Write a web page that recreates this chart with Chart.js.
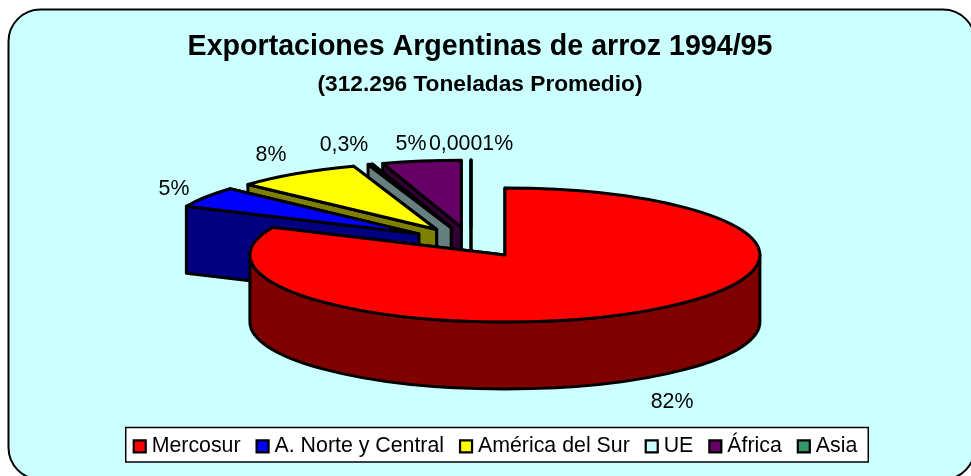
<!DOCTYPE html>
<html><head><meta charset="utf-8">
<style>html,body{margin:0;padding:0;background:#fff}canvas{display:block}</style>
<script src="https://cdn.jsdelivr.net/npm/chart.js@4/dist/chart.umd.min.js"></script>
</head><body><div style="width:971px;height:476px"><canvas id="c" width="971" height="476"></canvas></div>
<script>
const categories = ['Mercosur','A. Norte y Central','América del Sur','UE','África','Asia'];
const shares = [82,5,8,0.3,5,0.0001];
const shareLabels = ['82%','5%','8%','0,3%','5%','0,0001%'];
const topColors = ['#FF0000','#0000FF','#FFFF00','#CCFFFF','#660066','#339966'];
const wallColors = ['#800000','#000080','#808000','#668080','#330033','#1A4D33'];
const drawOrder = [5,4,3,2,1,0];

const FONT = '"Liberation Sans", Arial, sans-serif';
const BG = '#CCFFFF';
const RX = 255, SQUASH = 67/255, DEPTH = 67, EXPLODE_X = 62.5, EXPLODE_Y = 15.2;
const PIE_CX = 471, PIE_CY = 242.2;
const TITLE_SHIFT = -5.5, LEGEND_SHIFT = 10;
const LABEL_CENTERS = [[672,402],[174,189],[271,155],[344,145],[411,144],[471,144]];

const pie3d = {
  id:'pie3d',
  afterLayout(chart){
    for(const b of chart.boxes){
      if(b.position==='top' && b.options && b.options.text){ b.left+=TITLE_SHIFT; b.right+=TITLE_SHIFT; }
    }
    chart.legend.left+=LEGEND_SHIFT; chart.legend.right+=LEGEND_SHIFT;
  },
  beforeDraw(chart){
    const c=chart.ctx;
    c.save();
    c.fillStyle='#fff'; c.fillRect(0,0,971,476);
    c.beginPath(); c.roundRect(8.5,9.5,966.5,470,32);
    c.fillStyle=BG; c.fill();
    c.lineWidth=2; c.strokeStyle='#000'; c.stroke();
    const hits=chart.legend.legendHitBoxes, f=hits[0], l=hits[hits.length-1];
    c.fillStyle='#fff'; c.lineWidth=1.5;
    c.beginPath(); c.rect(f.left-8,427.5,l.left+l.width-f.left+19,34.5); c.fill(); c.stroke();
    c.restore();
  },
  beforeDatasetDraw(chart,args){
    const c=chart.ctx, meta=args.meta;
    const dx=PIE_CX-meta.data[0].x, dy=PIE_CY-meta.data[0].y;
    c.save(); c.lineJoin='round'; c.strokeStyle='#000'; c.lineWidth=3;
    for(const i of drawOrder){
      const el=meta.data[i];
      const ry=el.outerRadius*SQUASH, r=el.outerRadius;
      const a0=el.startAngle, a1=el.endAngle, mid=(a0+a1)/2;
      const cx=el.x+dx+Math.cos(mid)*EXPLODE_X, cy=el.y+dy+Math.sin(mid)*EXPLODE_Y;
      const px=a=>cx+Math.cos(a)*r, py=a=>cy+Math.sin(a)*ry;
      const wall=a=>{c.beginPath();c.moveTo(cx,cy);c.lineTo(px(a),py(a));c.lineTo(px(a),py(a)+DEPTH);c.lineTo(cx,cy+DEPTH);c.closePath();c.fillStyle=wallColors[i];c.fill();c.stroke();};
      wall(a1); wall(a0);
      const f0=Math.max(a0,0), f1=Math.min(a1,Math.PI);
      if(f1>f0){
        c.beginPath(); c.ellipse(cx,cy,r,ry,0,f0,f1);
        c.ellipse(cx,cy+DEPTH,r,ry,0,f1,f0,true); c.closePath();
        c.fillStyle=wallColors[i]; c.fill(); c.stroke();
      }
      // top face drawn by the library's arc element, squashed into the tilt
      c.save();
      c.translate(cx,cy); c.scale(1,SQUASH); c.translate(-el.x,-el.y);
      el.draw(c);
      c.restore();
      c.beginPath(); c.moveTo(cx,cy); c.ellipse(cx,cy,r,ry,0,a0,a1); c.closePath(); c.stroke();
    }
    c.restore();
    return false;
  },
  afterDraw(chart){
    const c=chart.ctx;
    c.save();
    chart.legend.legendHitBoxes.forEach((h,i)=>{
      c.fillStyle=topColors[i]; c.strokeStyle='#000'; c.lineWidth=2.2;
      c.beginPath(); c.rect(h.left,h.top+h.height/2-6,12,12); c.fill(); c.stroke();
    });
    c.fillStyle='#000'; c.font='21.33px '+FONT; c.textAlign='center'; c.textBaseline='middle';
    shareLabels.forEach((t,i)=>c.fillText(t,LABEL_CENTERS[i][0],LABEL_CENTERS[i][1]));
    c.restore();
  }
};

new Chart(document.getElementById('c'),{
  type:'pie',
  data:{labels:categories,datasets:[{data:shares,backgroundColor:topColors,borderWidth:0,offset:0,hoverOffset:0}]},
  options:{
    responsive:false,animation:false,radius:RX,
    events:[],
    layout:{padding:{top:0,bottom:9,left:0,right:0}},
    plugins:{
      tooltip:{enabled:false},
      title:{display:true,text:'Exportaciones Argentinas de arroz 1994/95',color:'#000',font:{family:FONT,size:28.6,weight:'bold'},padding:{top:30,bottom:7}},
      subtitle:{display:true,text:'(312.296 Toneladas Promedio)',color:'#000',font:{family:FONT,size:22.7,weight:'bold'},padding:{top:0,bottom:6}},
      legend:{display:true,position:'bottom',labels:{
        color:'#000',font:{family:FONT,size:21.33},boxWidth:7.3,boxHeight:7,padding:16,
        generateLabels(chart){
          return categories.map((t,i)=>({text:t,fillStyle:'rgba(0,0,0,0)',strokeStyle:'rgba(0,0,0,0)',lineWidth:0,hidden:false,index:i}));
        }
      }}
    }
  },
  plugins:[pie3d]
});
</script></body></html>
